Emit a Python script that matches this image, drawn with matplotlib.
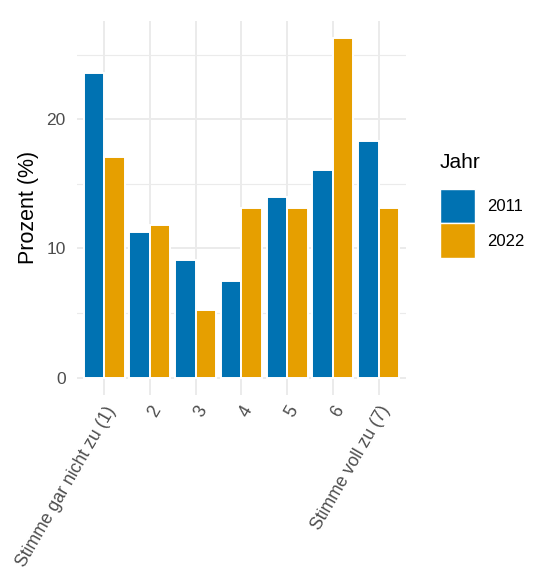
import matplotlib
matplotlib.use("Agg")
import matplotlib.pyplot as plt
from matplotlib.patches import Patch
import numpy as np

plt.rcParams['font.family'] = ['Liberation Sans', 'DejaVu Sans']

categories = ["Stimme gar nicht zu (1)", "2", "3", "4", "5", "6", "Stimme voll zu (7)"]
years = ["2011", "2022"]
values_2011 = [23.6, 11.3, 9.1, 7.5, 14.0, 16.1, 18.3]
values_2022 = [17.1, 11.8, 5.2, 13.1, 13.1, 26.3, 13.1]
colors = ["#0072B2", "#E69F00"]

fig = plt.figure(figsize=(5.35, 5.73), dpi=100)
ax = fig.add_axes([0.1434, 0.3113, 0.6155, 0.6521])

x = np.arange(1, len(categories) + 1)
w = 0.45
for i, (vals, col) in enumerate(zip([values_2011, values_2022], colors)):
    ax.bar(x + (i - 0.5) * w, vals, width=w, color=col, edgecolor="white",
           linewidth=1.4, zorder=3, label=years[i])

ymax = max(values_2011 + values_2022)
ax.set_ylim(-0.05 * ymax, 1.05 * ymax)
ax.set_xlim(0.4, 7.6)
ax.set_yticks([0, 10, 20])
ax.set_yticks([5, 15, 25], minor=True)
ax.set_xticks(x)
ax.set_xticklabels(categories, rotation=60, ha="right", va="top",
                   rotation_mode="anchor", fontsize=12.7, color="#4D4D4D")
ax.tick_params(axis="y", labelsize=12.5, labelcolor="#4D4D4D", length=0, pad=8)
ax.tick_params(axis="x", length=0, pad=6)
ax.tick_params(which="minor", length=0)

ax.grid(True, which="major", color="#EBEBEB", linewidth=1.4, zorder=0)
ax.grid(True, which="minor", axis="y", color="#EBEBEB", linewidth=0.8, zorder=0)
for s in ax.spines.values():
    s.set_visible(False)

ax.set_ylabel("Prozent (%)", fontsize=15.5, color="black", labelpad=5)

handles = [Patch(facecolor=c, edgecolor="white", label=y) for c, y in zip(colors, years)]
leg = fig.legend(handles=handles, title="Jahr", loc="upper left",
                 bbox_to_anchor=(0.81, 0.744), frameon=False, fontsize=12,
                 title_fontsize=15, handlelength=2.1, handleheight=2.8,
                 handletextpad=0.7, labelspacing=0.0, borderaxespad=0)
leg._legend_box.align = "left"
leg._legend_box.sep = 12

fig.savefig("out.png", dpi=100)
